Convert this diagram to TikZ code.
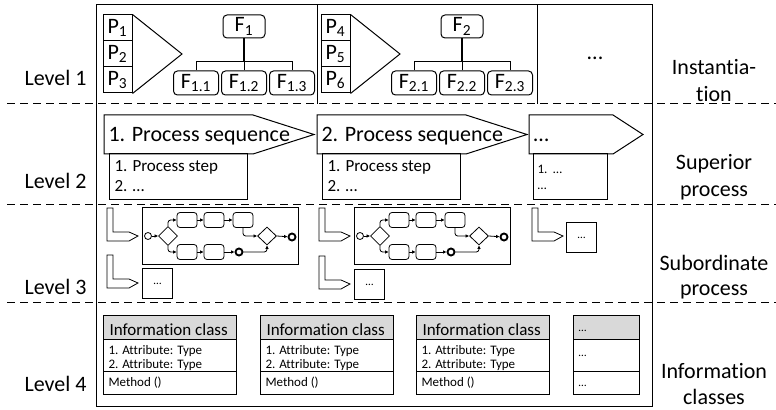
\documentclass[tikz,border=0pt]{standalone}
\usepackage{fontspec}
\setmainfont{Carlito}[Ligatures={NoCommon,NoContextual}]
\usetikzlibrary{arrows.meta,shapes.geometric}
\def\pxu{0.75pt}
\definecolor{hdrgray}{HTML}{D9D9D9}
\tikzset{
  big/.style={font=\fontsize{16.5}{20}\selectfont},
  mid/.style={font=\fontsize{12.75}{15}\selectfont},
  sml/.style={font=\fontsize{9.75}{12}\selectfont},
  tny/.style={font=\fontsize{8.5}{10}\selectfont},
  lvl/.style={big, anchor=base east, inner sep=0pt},
  side/.style={big, anchor=base, inner sep=0pt},
  txt/.style={anchor=base west, inner sep=0pt},
  pbox/.style={draw, big, minimum width=29*\pxu, minimum height=26*\pxu, inner sep=0pt},
  fbox/.style={draw, big, rounded corners=4*\pxu, minimum width=42*\pxu, minimum height=23*\pxu, inner sep=0pt},
  fchild/.style={fbox, minimum width=45*\pxu, minimum height=24*\pxu},
  divider/.style={dashed, dash pattern=on 6pt off 3.75pt, line width=0.75pt},
  task/.style={draw, rounded corners=3*\pxu, minimum width=20*\pxu, minimum height=15*\pxu, inner sep=0pt, line width=0.6pt},
  gate/.style={draw, diamond, aspect=1, minimum width=19*\pxu, minimum height=19*\pxu, inner sep=0pt, line width=0.6pt},
  startev/.style={draw, circle, minimum size=7*\pxu, inner sep=0pt, line width=0.6pt},
  endev/.style={draw, circle, minimum size=7*\pxu, inner sep=0pt, line width=1.4pt},
  ba/.style={-{Latex[length=2.6pt,width=2.6pt]}, line width=0.6pt},
  lshape/.style={line width=0.6pt}
}
\begin{document}
\begin{tikzpicture}[x=0.75pt,y=-0.75pt,line width=0.75pt]
\useasboundingbox (0,0) rectangle (776,410);

% frame and dividers
\draw (96,5) rectangle (652,406);
\draw (317,5) -- (317,104);
\draw (537,5) -- (537,104);
\draw[divider] (7,104) -- (776,104);
\draw[divider] (7,205) -- (776,205);
\draw[divider] (7,302) -- (776,302);

% level labels
\node[lvl] (lv1) at (87,86) {Level 1};
\node[lvl] (lv2) at (87,189) {Level 2};
\node[lvl] (lv3) at (87,294) {Level 3};
\node[lvl] (lv4) at (87,391) {Level 4};

\node[side] (r1a) at (714,75) {Instantia-};
\node[side] (r1b) at (714,102) {tion};
\node[side] (r2a) at (714,170) {Superior};
\node[side] (r2b) at (714,196) {process};
\node[side] (r3a) at (714,270) {Subordinate};
\node[side] (r3b) at (714,296) {process};
\node[side] (r4a) at (714,378) {Information};
\node[side] (r4b) at (714,404) {classes};

% Level 1
\foreach \c/\dx/\pa/\pb/\pc in {1/0/1/2/3, 2/218/4/5/6} {
\begin{scope}[shift={(\dx,0)}]
  \node[pbox] (p\c-1) at (117.5,28) {P\textsubscript{\pa}};
  \node[pbox] (p\c-2) at (117.5,54) {P\textsubscript{\pb}};
  \node[pbox] (p\c-3) at (117.5,80) {P\textsubscript{\pc}};
  \draw (p\c-1.north east) -- (182,54) -- (p\c-3.south east);
  \node[fbox] (f\c) at (244,26.5) {F\textsubscript{\c}};
  \node[fchild] (f\c-1) at (196,83) {F\textsubscript{\c.1}};
  \node[fchild] (f\c-2) at (244,83) {F\textsubscript{\c.2}};
  \node[fchild] (f\c-3) at (292,83) {F\textsubscript{\c.3}};
  \coordinate (j\c) at (244,61);
  \draw[line width=1pt] (f\c.south) -- (j\c);
  \draw[line width=0.6pt] (f\c-1.north) -- (f\c-1.north |- j\c) -- (f\c-3.north |- j\c) -- (f\c-3.north);
  \draw[line width=0.6pt] (f\c-2.north) -- (j\c);
\end{scope}
}
\node[big, inner sep=0pt] (dots1) at (595,58) {...};

% Level 2
\foreach \c/\dx in {1/0, 2/213} {
\begin{scope}[shift={(\dx,0)}]
  \draw (104,115) -- (253,115) -- (314,134.5) -- (253,154) -- (104,154) -- cycle;
  \node[big, txt] (ps\c) at (108,142) {\c. Process sequence};
  \draw (109,154) rectangle (247,200);
  \node[mid, txt] (st\c a) at (114,172) {1. Process step};
  \node[mid, txt] (st\c b) at (114,192) {2. …};
\end{scope}
}
\draw (529,115) -- (613,115) -- (643,134.5) -- (613,154) -- (529,154) -- cycle;
\node[big, txt] (ps3) at (533,142) {…};
\draw (533,154) rectangle (607,200);
\node[sml, txt] (st3a) at (537,174) {1.\ \ …};
\node[sml, txt] (st3b) at (537,190) {…};

% Level 3: subprocess markers
\foreach \k/\lx/\ly in {1/107/208, 2/107/255, 3/319/208, 4/319/256, 5/532/208} {
  \draw[lshape] (\lx,\ly) -- ++(6,0) -- ++(0,24) -- ++(16,0) -- ++(9,4) -- ++(-9,5) -- ++(-22,0) -- cycle;
}
\foreach \c/\bx in {1/142, 2/354} {
\begin{scope}[shift={(\bx,208)}]
  \draw (0,0) rectangle (156,56);
  \node[startev] (s\c) at (6,28) {};
  \node[gate] (g\c) at (26,28) {};
  \node[task] (ta\c) at (45,12) {};
  \node[task] (tb\c) at (72,12) {};
  \node[task] (tc\c) at (101,12) {};
  \node[task] (td\c) at (45,44) {};
  \node[task] (te\c) at (72,44) {};
  \node[endev] (ie\c) at (97,44) {};
  \node[gate, minimum height=18*\pxu] (h\c) at (125,28) {};
  \node[endev] (ee\c) at (150,29) {};
  \draw[ba] (s\c) -- (g\c);
  \draw[ba, rounded corners=2pt] (g\c.north) |- (ta\c);
  \draw[ba, rounded corners=2pt] (g\c.south) |- (td\c);
  \draw[ba] (ta\c) -- (tb\c);
  \draw[ba] (tb\c) -- (tc\c);
  \draw[ba] (td\c) -- (te\c);
  \draw[ba] (te\c) -- (ie\c);
  \draw[ba, rounded corners=2pt] (tc\c.south) |- (h\c.west);
  \draw[ba, rounded corners=2pt] (ie\c.east) -| (h\c.south);
  \draw[ba] (h\c.east) -- (ee\c);
\end{scope}
}
\foreach \k/\bx/\by in {1/142/268, 2/354/269, 3/566/222} {
  \node[draw, tny, anchor=north west, minimum width=30*\pxu, minimum height=30*\pxu, inner sep=0pt] (sb\k) at (\bx,\by) {…};
}

% Level 4
\foreach \k/\bx in {1/103, 2/260, 3/416} {
  \draw[fill=hdrgray] (\bx,315) rectangle ++(133,24);
  \draw (\bx,339) rectangle ++(133,32);
  \draw (\bx,371) rectangle ++(133,23);
  \node[mid, txt] (ich\k) at (\bx+6,335) {Information class};
  \node[sml, txt] (ica\k) at (\bx+5,354) {1. Attribute: Type};
  \node[sml, txt] (icb\k) at (\bx+5,368) {2. Attribute: Type};
  \node[sml, txt] (icm\k) at (\bx+5,386) {Method ()};
}
\draw[fill=hdrgray] (573,315) rectangle (639,339);
\draw (573,339) rectangle (639,371);
\draw (573,371) rectangle (639,394);
\node[tny, txt] (ic4h) at (578,331) {…};
\node[tny, txt] (ic4a) at (578,356) {…};
\node[tny, txt] (ic4m) at (578,386) {…};
\end{tikzpicture}
\end{document}
